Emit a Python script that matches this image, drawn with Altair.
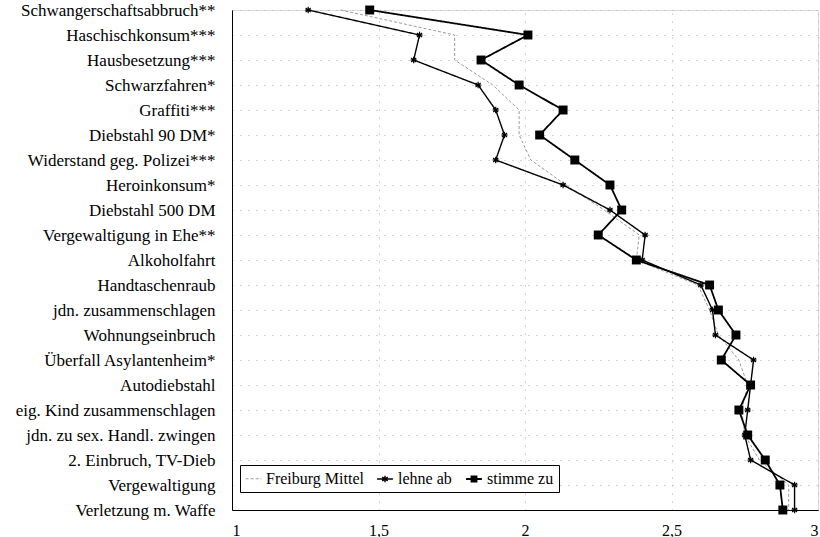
import altair as alt
import pandas as pd

# Delikte in Reihenfolge von oben nach unten
delikte = [
    "Schwangerschaftsabbruch**",
    "Haschischkonsum***",
    "Hausbesetzung***",
    "Schwarzfahren*",
    "Graffiti***",
    "Diebstahl 90 DM*",
    "Widerstand geg. Polizei***",
    "Heroinkonsum*",
    "Diebstahl 500 DM",
    "Vergewaltigung in Ehe**",
    "Alkoholfahrt",
    "Handtaschenraub",
    "jdn. zusammenschlagen",
    "Wohnungseinbruch",
    "Überfall Asylantenheim*",
    "Autodiebstahl",
    "eig. Kind zusammenschlagen",
    "jdn. zu sex. Handl. zwingen",
    "2. Einbruch, TV-Dieb",
    "Vergewaltigung",
    "Verletzung m. Waffe",
]

# Mittlere Bewertung je Gruppe
freiburg = [1.37, 1.76, 1.76, 1.89, 1.98, 1.98, 2.02, 2.14, 2.27, 2.39, 2.38,
            2.59, 2.63, 2.66, 2.73, 2.76, 2.74, 2.75, 2.80, 2.90, 2.90]
lehne_ab = [1.26, 1.64, 1.62, 1.84, 1.90, 1.93, 1.90, 2.13, 2.29, 2.41, 2.40,
            2.60, 2.64, 2.65, 2.78, 2.77, 2.76, 2.75, 2.77, 2.92, 2.92]
stimme_zu = [1.47, 2.01, 1.85, 1.98, 2.13, 2.05, 2.17, 2.29, 2.33, 2.25, 2.38,
             2.63, 2.66, 2.72, 2.67, 2.77, 2.73, 2.76, 2.82, 2.87, 2.88]

serien = ["Freiburg Mittel", "lehne ab", "stimme zu"]
x_ticks = [1, 1.5, 2, 2.5, 3]

rows = []
for serie, werte in zip(serien, [freiburg, lehne_ab, stimme_zu]):
    for i, (d, w) in enumerate(zip(delikte, werte)):
        rows.append({"Delikt": d, "Serie": serie, "Wert": w, "Rang": i})
df = pd.DataFrame(rows)

FONT = "Liberation Serif"

y_enc = alt.Y(
    "Delikt:N",
    sort=delikte,
    scale=alt.Scale(type="point", padding=0),
    axis=alt.Axis(
        title=None, labelFont=FONT, labelFontSize=17, labelColor="black",
        ticks=False, labelPadding=17, domainColor="black",
        grid=True, gridDash=[1, 7], gridColor="#999", gridOpacity=0.8,
        labelLimit=400,
    ),
)
x_enc = alt.X(
    "Wert:Q",
    scale=alt.Scale(domain=[1, 3], nice=False, zero=False),
    axis=alt.Axis(
        title=None, values=x_ticks, labelFont=FONT, labelFontSize=16,
        labelColor="black", ticks=False, labelPadding=12, domainColor="black",
        labelExpr="replace(toString(datum.value), '.', ',')",
        grid=True, gridDash=[1, 7], gridColor="#999", gridOpacity=0.8,
    ),
)

# Legendensymbol: kurze Linie mit dem Marker der jeweiligen Reihe
symbol_shape = (
    "datum.value === 'lehne ab' ? "
    "'M-1,0H1M0,-0.4V0.4M-0.35,-0.25L0.35,0.25M-0.35,0.25L0.35,-0.25' : "
    "datum.value === 'stimme zu' ? "
    "'M-1,0H1M-0.32,-0.32H0.32V0.32H-0.32Z' : 'M-1,0H1'"
)
symbol_fill = "datum.value === 'stimme zu' ? 'black' : 'transparent'"

legend = alt.Legend(
    orient="none", legendX=8, legendY=455, direction="horizontal",
    title=None, strokeColor="black", fillColor="white", padding=5,
    labelFont=FONT, labelFontSize=16, labelColor="black",
    symbolSize=250, symbolStrokeWidth=1.5, columnPadding=10, labelOffset=4,
    symbolType={"expr": symbol_shape},
    symbolFillColor={"expr": symbol_fill},
)

color_enc = alt.Color(
    "Serie:N",
    scale=alt.Scale(domain=serien, range=["#9a9a9a", "black", "black"]),
    legend=legend,
)

lines = alt.Chart(df).mark_line().encode(
    x=x_enc,
    y=y_enc,
    order="Rang:Q",
    color=color_enc,
    strokeDash=alt.StrokeDash(
        "Serie:N",
        scale=alt.Scale(domain=serien, range=[[3, 2], [1, 0], [1, 0]]),
        legend=None,
    ),
    strokeWidth=alt.StrokeWidth(
        "Serie:N",
        scale=alt.Scale(domain=serien, range=[1, 1.8, 1.8]),
        legend=None,
    ),
)

stern = alt.Chart(df[df["Serie"] == "lehne ab"]).mark_point(
    shape="M-1,0H1M0,-1V1M-0.8,-0.6L0.8,0.6M-0.8,0.6L0.8,-0.6",
    size=40, color="black", strokeWidth=1.2, filled=False, opacity=1,
).encode(x="Wert:Q", y=alt.Y("Delikt:N", sort=delikte))

quadrat = alt.Chart(df[df["Serie"] == "stimme zu"]).mark_point(
    shape="square", size=80, color="black", filled=True, opacity=1,
).encode(x="Wert:Q", y=alt.Y("Delikt:N", sort=delikte))

chart = (
    alt.layer(lines, stern, quadrat)
    .properties(
        width=586, height=500,
        autosize=alt.AutoSizeParams(type="none"),
        padding={"left": 232, "top": 10, "right": 2, "bottom": 27},
    )
    .configure_view(stroke="black", strokeWidth=1.2)
    .configure(background="white")
)

chart.save("out.html", embed_options={"renderer": "svg", "actions": False})
